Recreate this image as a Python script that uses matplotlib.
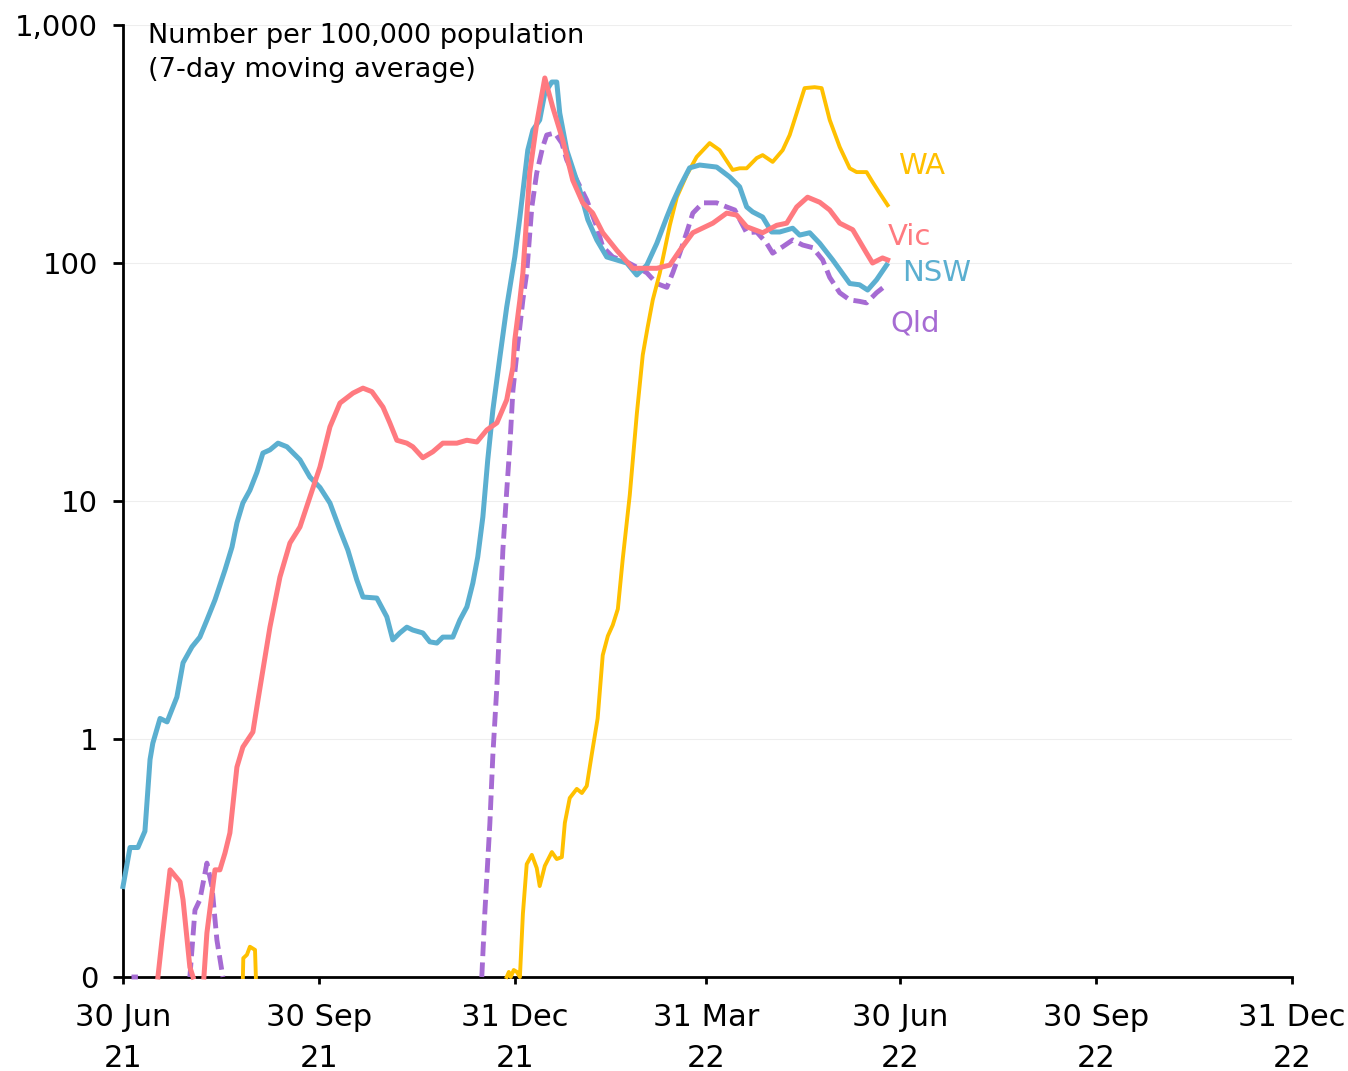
import matplotlib
matplotlib.use("Agg")
import matplotlib.pyplot as plt
import numpy as np
import pandas as pd

plt.rcParams.update({
    "font.family": "DejaVu Sans",
    "font.size": 21,
    "axes.linewidth": 2.0,
})

# =========================
# data: days since 30 Jun 2021, values per 100,000 (7-day avg); None = gap
# =========================
start = pd.Timestamp("2021-06-30")

nsw_days = [0, 3.3, 7, 10.3, 12.7, 14, 17.4, 20.7, 25.3, 28.2, 32.4, 36.1, 39.4, 43.2, 47.9, 51.2,
            53.5, 56.3, 59.6, 62.9, 65.7, 69, 72.8, 77, 83.1, 87.8, 92.5, 97.2, 101.9, 105.6, 109.8,
            112.7, 119.2, 123.9, 126.7, 130, 133.3, 136.1, 140.8, 144.1, 147.4, 150.2, 154.9, 158.2,
            161.5, 164.3, 166.6, 169, 171.3, 173.7, 177, 180.2, 184, 186.4, 190.1, 192.5, 195.7,
            198.1, 201.4, 203.7, 205.1, 208.4, 214.5, 218.3, 222.5, 227.2, 236.6, 241.3, 246, 250.7,
            255.4, 258.2, 261.5, 266.1, 270.8, 278.8, 284.9, 289.6, 292.9, 295.7, 300.4, 304.6,
            308.4, 314.5, 317.8, 322.5, 327.2, 333.3, 341.3, 345.9, 349.7, 353.9, 358.6]
nsw_vals = [0.24, 0.35, 0.35, 0.41, 0.82, 0.96, 1.22, 1.18, 1.50, 2.09, 2.44, 2.68, 3.16, 3.84, 5.13, 6.41,
            8.09, 9.81, 11.1, 13.2, 15.9, 16.4, 17.5, 16.9, 14.9, 12.6, 11.4, 9.8, 7.55, 6.22, 4.66,
            3.95, 3.91, 3.26, 2.61, 2.79, 2.95, 2.87, 2.79, 2.56, 2.53, 2.68, 2.68, 3.16,
            3.59, 4.52, 5.82, 8.57, 14.9, 24.1, 40.3, 65.3, 106, 156, 298, 362, 399,
            518, 576, 576, 427, 298, 203, 152, 125, 106, 100, 89, 98, 121,
            156, 180, 209, 251, 258, 253, 230, 209, 172, 164, 156, 135,
            135, 140, 131, 134, 121, 103, 82, 81, 77, 85, 98]

vic_days = [16.4, 18.3, 22.1, 26.8, 28.2, 31.4, 32.9, None, 38, 39.4, 43.2, 45.5, 47.9, 50.2, 53.5,
            56.3, 61, 63.4, 69, 73.7, 78.4, 83.1, 87.8, 92.5, 97.2, 101.9, 108, 112.7, 116.9,
            122.1, 125.3, 128.6, 133.3, 136.1, 140.8, 145.5, 150.2, 156.8, 161.5, 166.2, 170.9,
            175.6, 180.2, 183.1, 184, 186.4, 187.8, 191, 194.3, 198.1, 201.8, 206.5, 211.2, 215.9,
            220.6, 225.3, 231.9, 239.4, 250.7, 256.8, 261.5, 267.6, 277, 283.5, 288.2, 292.9,
            300.4, 307, 311.7, 316.4, 321.5, 327.2, 331.9, 336.6, 342.7, 349.2, 352, 356.7, 359.1]
vic_vals = [0, 0.143, 0.282, 0.251, 0.211, 0.110, 0, None, 0, 0.153, 0.282, 0.282, 0.332, 0.403, 0.762,
            0.925, 1.07, 1.46, 2.95, 4.79, 6.66, 7.78, 10.4, 13.9, 20.5, 25.8, 28.4, 29.8, 28.8,
            24.8, 21.3, 18.0, 17.5, 16.9, 15.2, 16.1, 17.5, 17.5, 18.0, 17.7, 19.9,
            21.3, 26.6, 36.5, 47.5, 70, 90.8, 239, 387, 599, 452, 329, 223, 179,
            162, 134, 113, 95, 95, 98, 113, 134, 147, 162, 159, 142,
            134, 144, 147, 172, 189, 180, 167, 147, 138, 110, 100, 105, 103]

qld_days = [4, 7, None, 31.4, 33.8, 36.1, 39.4, 41.8, 44.1, 46.9, None,
            168.5, 169.9, 172.3, 173.7, 175.6, 177, 178.4, 180.2, 181.7, 183.1, 185.4, 187.8, 189.6,
            192, 194.3, 197.1, 199, 202.8, 206.1, 208.4, 213.1, 217.8, 222.5, 225.3, 230, 236.6,
            241.3, 246, 250.7, 255.4, 258.2, 261.5, 264.7, 267.6, 272.3, 278.8, 283.5, 287.3,
            292.9, 297.6, 302.3, 305.1, 309.8, 314.5, 319.2, 323.9, 328.6, 331.9, 336.6, 341.3,
            345.9, 349.2, 353.9, 358.6]
qld_vals = [0, 0, None, 0, 0.191, 0.211, 0.301, 0.239, 0.143, 0, None,
            0, 0.184, 0.444, 0.857, 1.67, 3.22, 6.22, 11.0, 17.2, 29.0, 45.2, 70, 90.8,
            172, 239, 307, 345, 352, 319, 271, 223, 184, 142, 117, 106, 101,
            96, 91, 82, 79, 91, 110, 134, 162, 179, 179, 172, 167,
            134, 135, 121, 110, 117, 125, 119, 116, 103, 87, 75, 70,
            69, 68, 75, 81]

wa_days = [56.3, 56.5, 58.2, 59.6, 62, 62.4, None,
           180.2, 181.2, 182.1, 183.5, 185, 186.4, 187.8, 189.6, 192, 194.3, 195.7, 198.1, 201.4,
           203.7, 206.1, 207.5, 209.8, 213.1, 215.5, 217.8, 220.1, 222.9, 225.3, 227.7, 230,
           232.4, 234.7, 238, 241.3, 244.1, 246.4, 248.8, 252.1, 256.8, 260.1, 264.7, 269.4,
           275.5, 280.2, 286.3, 289.6, 292.9, 297.6, 300.4, 305.1, 309.8, 313.1, 316.4, 320.1,
           324.8, 328.1, 331.9, 336.6, 341.3, 344.5, 349.2, 352, 355.3, 359.1]
wa_vals = [0, 0.12, 0.124, 0.134, 0.130, 0, None,
           0, 0.105, 0, 0.107, 0.105, 0, 0.184, 0.298, 0.326, 0.287, 0.241, 0.293, 0.335,
           0.313, 0.319, 0.444, 0.565, 0.617, 0.593, 0.635, 0.857, 1.22, 2.25, 2.71, 3.01,
           3.52, 5.71, 10.6, 23.2, 41.1, 53.8, 70, 90.8, 144, 189, 234, 279,
           319, 298, 246, 250, 250, 276, 284, 266, 298, 345, 427, 543,
           548, 543, 399, 307, 250, 241, 241, 219, 197, 175]

series = [
    # name, days, values, colour, label position (days, value)
    ("WA", wa_days, wa_vals, "#FFC000", (374.8, 255)),
    ("Vic", vic_days, vic_vals, "#FF7A80", (369.4, 128)),
    ("NSW", nsw_days, nsw_vals, "#5BAFD0", (382.1, 91)),
    ("Qld", qld_days, qld_vals, "#A66BD3", (371.8, 55.5)),
]

yticks = [0.1, 1, 10, 100, 1000]
ytick_labels = ["0", "1", "10", "100", "1,000"]
xtick_dates = ["2021-06-30", "2021-09-30", "2021-12-31", "2022-03-31",
               "2022-06-30", "2022-09-30", "2022-12-31"]
xtick_labels = ["30 Jun\n21", "30 Sep\n21", "31 Dec\n21", "31 Mar\n22",
                "30 Jun\n22", "30 Sep\n22", "31 Dec\n22"]

# =========================
# plot
# =========================
fig = plt.figure(figsize=(13.48, 10.71), dpi=100)
ax = fig.add_axes([123 / 1348, 1 - 977 / 1071, (1292 - 123) / 1348, (977 - 25) / 1071])


def to_xy(days, vals):
    d = np.array([np.nan if v is None else v for v in days], dtype=float)
    y = np.array([np.nan if v is None else v for v in vals], dtype=float)
    x = start + pd.to_timedelta(np.nan_to_num(d), unit="D")
    x = np.array(x, dtype="datetime64[ns]")
    y = np.where(np.isnan(d), np.nan, np.maximum(y, 0.1))  # 0 sits on the "0" baseline
    return x, y


z = {"Qld": 3, "WA": 4, "NSW": 5, "Vic": 6}
for name, days, vals, col, (lx, ly) in series:
    x, y = to_xy(days, vals)
    if name == "Qld":
        ax.plot(x, y, color=col, lw=3.5, dashes=(3.0, 1.3), zorder=z[name], clip_on=False)
    elif name == "WA":
        ax.plot(x, y, color=col, lw=2.8, zorder=z[name], clip_on=False)
    else:
        ax.plot(x, y, color=col, lw=3.6, zorder=z[name], clip_on=False)
    ax.text(start + pd.Timedelta(days=lx), ly, name, color=col, fontsize=21,
            ha="center", va="center")

ax.set_yscale("log")
ax.set_ylim(0.1, 1000)
ax.set_yticks(yticks)
ax.set_yticklabels(ytick_labels)
ax.yaxis.set_minor_locator(matplotlib.ticker.NullLocator())

ax.set_xlim(pd.Timestamp("2021-06-30"), pd.Timestamp("2022-12-31"))
ax.set_xticks(pd.to_datetime(xtick_dates))
ax.set_xticklabels(xtick_labels, linespacing=1.5)

for s in ["top", "right"]:
    ax.spines[s].set_visible(False)
ax.grid(True, axis="y", color="#EEEEEE", lw=0.8)
ax.set_axisbelow(True)
ax.tick_params(axis="y", length=7, width=2.0, pad=11, labelsize=21)
ax.tick_params(axis="x", length=5, width=2.0, pad=14, labelsize=22)

ax.text(0.021, 1.002, "Number per 100,000 population\n(7-day moving average)",
        transform=ax.transAxes, ha="left", va="top", fontsize=19.5, linespacing=1.38)

fig.savefig("out.png", dpi=100)
